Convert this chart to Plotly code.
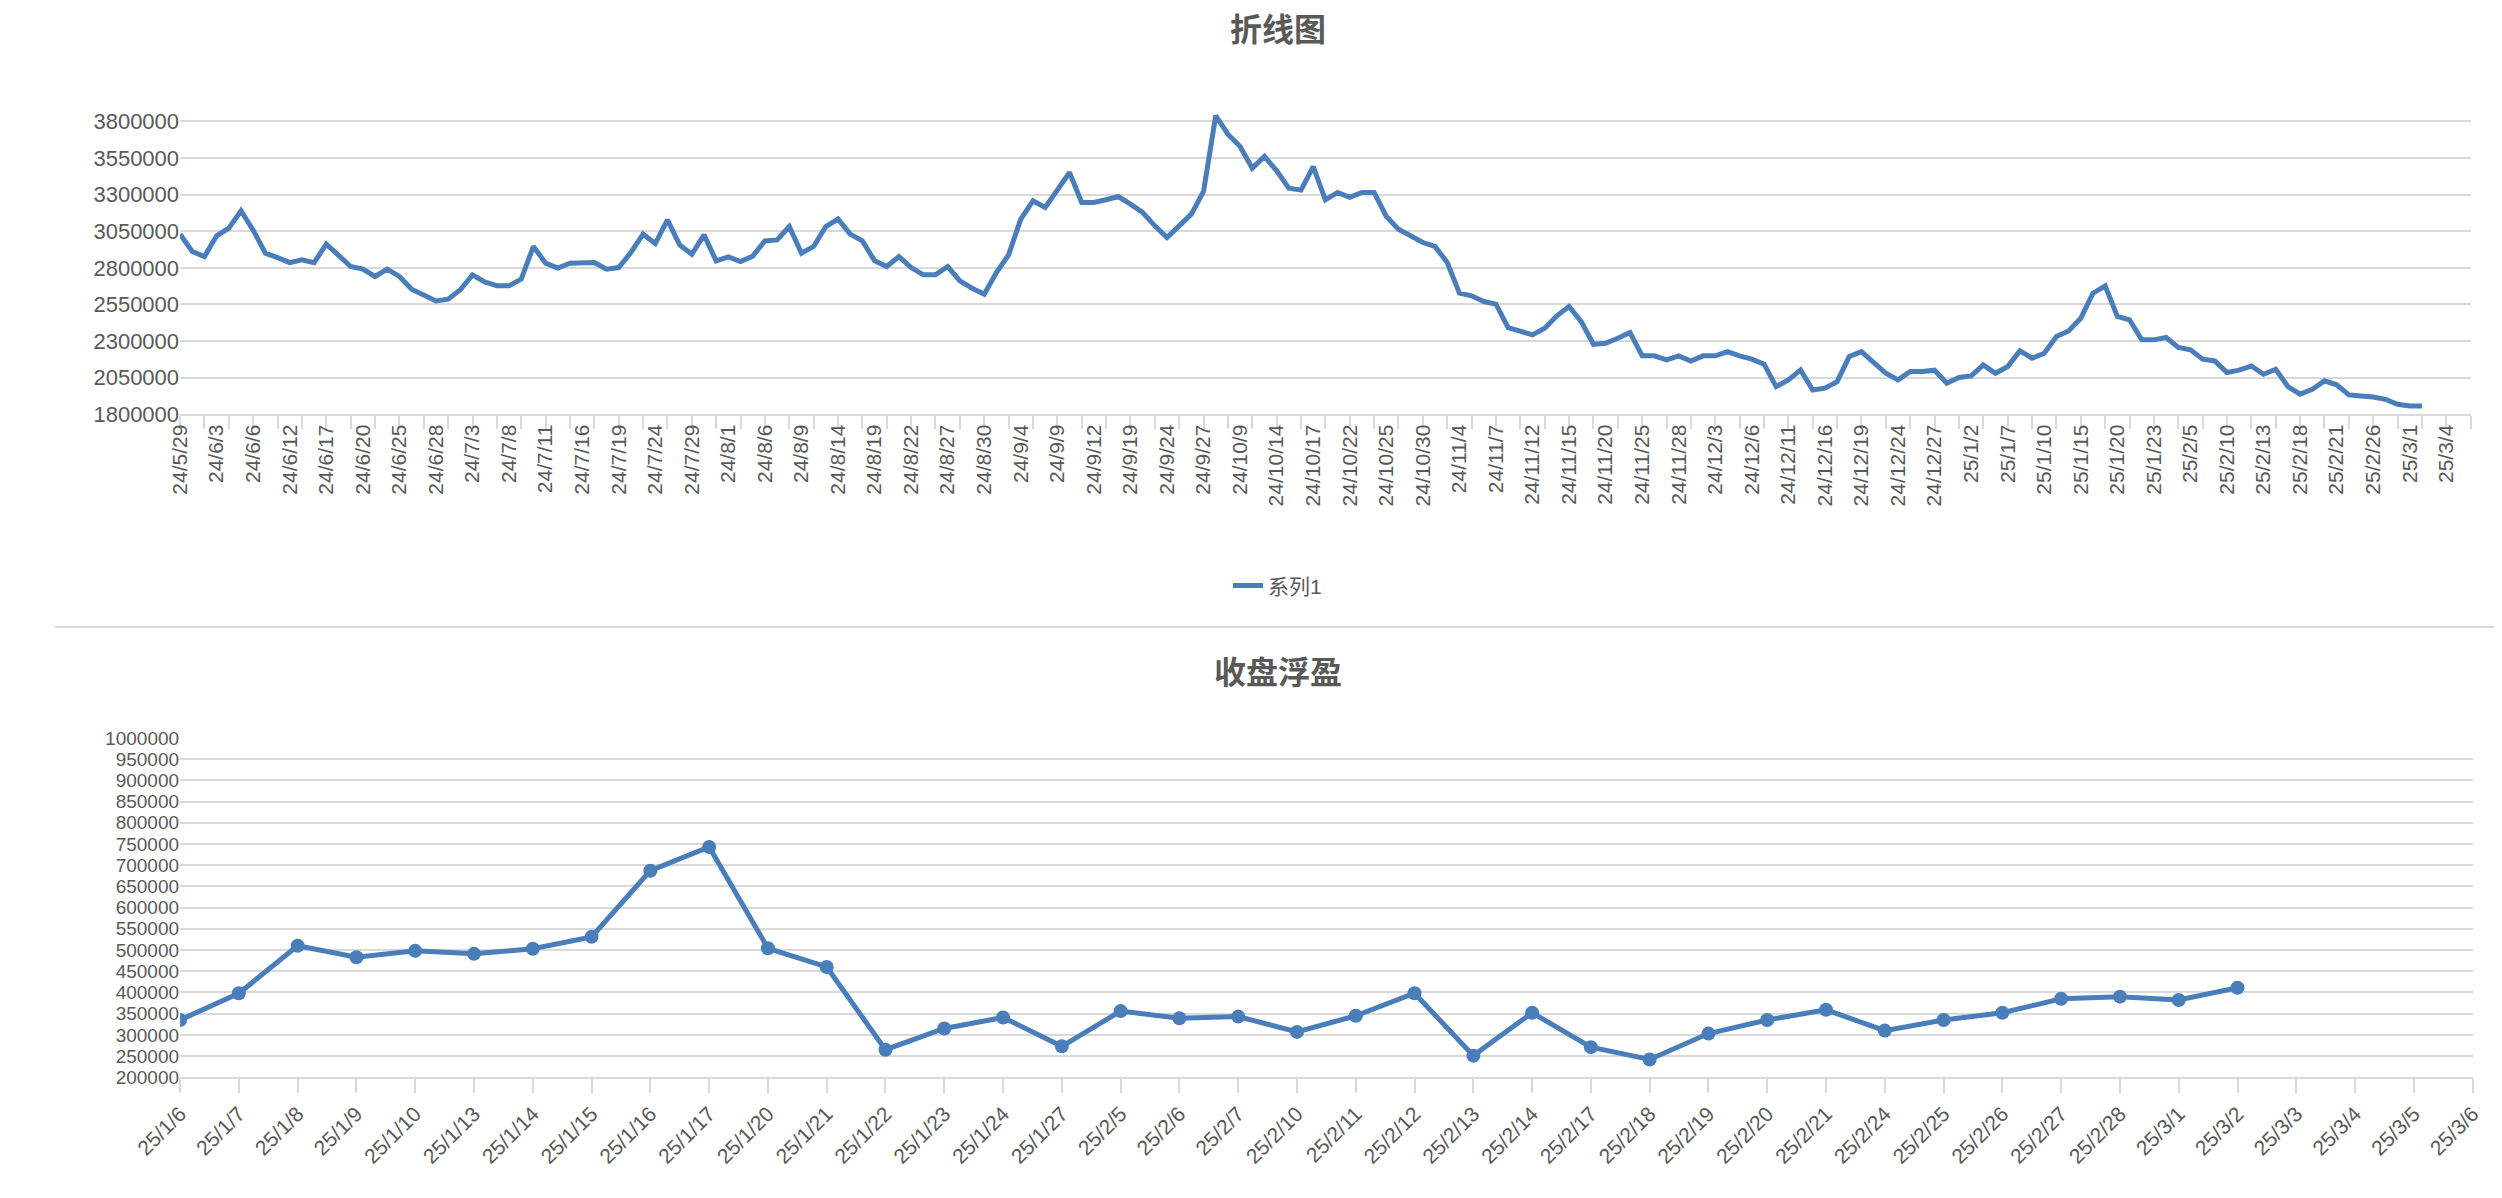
import plotly.graph_objects as go

# ---------------- top chart data ----------------
top_tick_labels = ["24/5/29","24/6/3","24/6/6","24/6/12","24/6/17","24/6/20","24/6/25","24/6/28",
    "24/7/3","24/7/8","24/7/11","24/7/16","24/7/19","24/7/24","24/7/29","24/8/1","24/8/6","24/8/9",
    "24/8/14","24/8/19","24/8/22","24/8/27","24/8/30","24/9/4","24/9/9","24/9/12","24/9/19","24/9/24",
    "24/9/27","24/10/9","24/10/14","24/10/17","24/10/22","24/10/25","24/10/30","24/11/4","24/11/7",
    "24/11/12","24/11/15","24/11/20","24/11/25","24/11/28","24/12/3","24/12/6","24/12/11","24/12/16",
    "24/12/19","24/12/24","24/12/27","25/1/2","25/1/7","25/1/10","25/1/15","25/1/20","25/1/23",
    "25/2/5","25/2/10","25/2/13","25/2/18","25/2/21","25/2/26","25/3/1","25/3/4"]
top_values = [
    3030000,2912000,2877000,3019000,3071000,3190000,3057000,2900000,2870000,2836000,
    2855000,2836000,2962000,2889000,2809000,2791000,2741000,2791000,2741000,2654000,
    2615000,2574000,2586000,2650000,2752000,2704000,2677000,2677000,2723000,2946000,
    2832000,2798000,2832000,2836000,2836000,2791000,2802000,2905000,3030000,2966000,
    3128000,2957000,2893000,3025000,2848000,2875000,2843000,2880000,2984000,2991000,
    3082000,2900000,2946000,3082000,3133000,3030000,2984000,2848000,2809000,2877000,
    2802000,2752000,2752000,2809000,2711000,2661000,2620000,2768000,2889000,3133000,
    3258000,3212000,3326000,3451000,3246000,3246000,3265000,3287000,3235000,3178000,
    3087000,3007000,3087000,3167000,3322000,3839000,3713000,3629000,3481000,3561000,
    3463000,3344000,3331000,3492000,3265000,3315000,3281000,3315000,3315000,3151000,
    3064000,3014000,2973000,2946000,2836000,2627000,2609000,2570000,2552000,2392000,
    2369000,2342000,2388000,2472000,2536000,2433000,2278000,2285000,2319000,2358000,
    2199000,2199000,2171000,2199000,2164000,2199000,2199000,2228000,2199000,2176000,
    2142000,1989000,2035000,2103000,1966000,1978000,2023000,2194000,2228000,2153000,
    2080000,2035000,2092000,2092000,2101000,2012000,2051000,2062000,2137000,2080000,
    2126000,2233000,2183000,2217000,2331000,2369000,2456000,2627000,2677000,2468000,
    2445000,2308000,2308000,2324000,2256000,2240000,2176000,2164000,2085000,2101000,
    2130000,2073000,2107000,1989000,1937000,1971000,2028000,2001000,1932000,1925000,
    1918000,1902000,1868000,1857000,1857000]
top_yticks = [1800000,2050000,2300000,2550000,2800000,3050000,3300000,3550000,3800000]
top_label_step = 3
top_n_categories = 189

# ---------------- bottom chart data ----------------
bot_categories = ["25/1/6","25/1/7","25/1/8","25/1/9","25/1/10","25/1/13","25/1/14","25/1/15",
    "25/1/16","25/1/17","25/1/20","25/1/21","25/1/22","25/1/23","25/1/24","25/1/27","25/2/5",
    "25/2/6","25/2/7","25/2/10","25/2/11","25/2/12","25/2/13","25/2/14","25/2/17","25/2/18",
    "25/2/19","25/2/20","25/2/21","25/2/24","25/2/25","25/2/26","25/2/27","25/2/28","25/3/1",
    "25/3/2","25/3/3","25/3/4","25/3/5","25/3/6"]
bot_values = [335000,398000,510000,483000,498000,491000,503000,531000,687000,743000,
    504000,460000,265000,315000,341000,273000,356000,339000,343000,307000,
    345000,398000,251000,352000,271000,242000,303000,335000,359000,310000,
    335000,352000,385000,390000,382000,411000]
bot_yticks = list(range(200000, 1000001, 50000))

W, H = 2502, 1198
BLUE = "#4A7EBB"
GRID = "#d9d9d9"
TXT = "#595959"
FONT = "Liberation Sans, Noto Sans CJK SC, sans-serif"

fig = go.Figure()
top_x = list(range(len(top_values)))
fig.add_trace(go.Scatter(x=top_x, y=top_values, mode="lines", name="系列1",
                         line=dict(color=BLUE, width=5), xaxis="x", yaxis="y", showlegend=True))
bot_x = list(range(len(bot_values)))
fig.add_trace(go.Scatter(x=bot_x, y=bot_values, mode="lines+markers", name="收盘浮盈",
                         line=dict(color=BLUE, width=5), marker=dict(size=14, color=BLUE),
                         xaxis="x2", yaxis="y2", showlegend=False))

xd = [128 / W, 2472 / W]
fig.update_layout(
    width=W, height=H, margin=dict(l=0, r=0, t=0, b=0),
    paper_bgcolor="white", plot_bgcolor="white",
    font=dict(family=FONT, color=TXT, size=20),
    xaxis=dict(domain=xd, range=[0, top_n_categories - 1],
               tickmode="array",
               tickvals=list(range(0, len(top_tick_labels) * top_label_step, top_label_step)),
               ticktext=top_tick_labels, tickangle=-90, ticks="", showgrid=False,
               showline=True, linecolor=GRID, linewidth=2, zeroline=False,
               tickfont=dict(size=21, color=TXT),
               minor=dict(tickmode="linear", tick0=0, dtick=2, ticks="outside", ticklen=13,
                          tickcolor=GRID, tickwidth=2, showgrid=False)),
    yaxis=dict(domain=[1 - 404 / H, 1 - 98 / H], range=[1800000, 3850000],
               tickmode="array", tickvals=top_yticks, ticktext=[str(v) for v in top_yticks],
               showgrid=True, gridcolor=GRID, gridwidth=2, zeroline=False, ticks="",
               tickfont=dict(size=22, color=TXT)),
    xaxis2=dict(domain=[128 / W, 2474 / W], range=[0, len(bot_categories) - 1],
                tickmode="array", tickvals=list(range(len(bot_categories))),
                ticktext=bot_categories, tickangle=-45, ticks="outside", ticklen=14,
                tickcolor=GRID, tickwidth=2, showgrid=False, showline=True,
                linecolor=GRID, linewidth=2, zeroline=False, anchor="y2",
                tickfont=dict(size=21, color=TXT)),
    yaxis2=dict(domain=[1 - 1080 / H, 1 - 734 / H], range=[200000, 1000000],
                tickmode="array", tickvals=bot_yticks, ticktext=[str(v) for v in bot_yticks],
                showgrid=True, gridcolor=GRID, gridwidth=2, zeroline=False, ticks="",
                anchor="x2", tickfont=dict(size=19, color=TXT)),
    legend=dict(orientation="h", x=0.5, xanchor="center", y=1 - 579 / H, yanchor="middle",
                font=dict(size=21, color=TXT), bgcolor="rgba(0,0,0,0)"),
    annotations=[
        dict(text="<b>折线图</b>", x=0.5, y=1 - 12 / H, xref="paper", yref="paper",
             showarrow=False, font=dict(size=32, color=TXT, family=FONT), yanchor="middle"),
        dict(text="<b>收盘浮盈</b>", x=0.5, y=1 - 668 / H, xref="paper", yref="paper",
             showarrow=False, font=dict(size=32, color=TXT, family=FONT), yanchor="middle"),
    ],
    shapes=[dict(type="line", xref="paper", yref="paper", x0=0, x1=1,
                 y0=1 - 621 / H, y1=1 - 621 / H, line=dict(color=GRID, width=2))],
)
fig.write_html("out.html")
